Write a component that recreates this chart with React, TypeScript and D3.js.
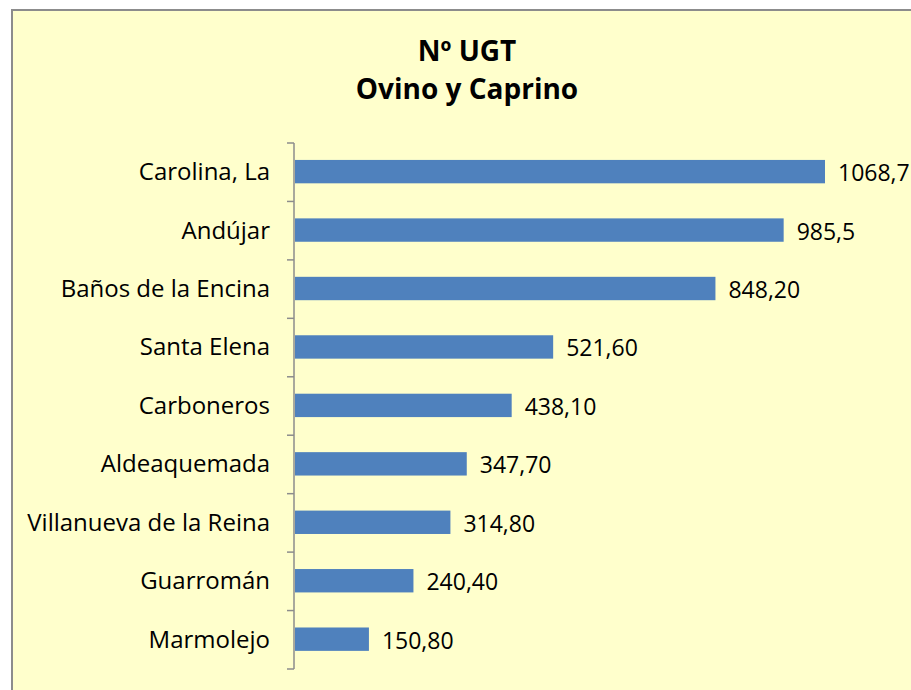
import React from "react";
import * as d3 from "d3";

const categories = [
  "Carolina, La",
  "Andújar",
  "Baños de la Encina",
  "Santa Elena",
  "Carboneros",
  "Aldeaquemada",
  "Villanueva de la Reina",
  "Guarromán",
  "Marmolejo",
];
const values = [1068.7, 985.5, 848.2, 521.6, 438.1, 347.7, 314.8, 240.4, 150.8];
const valueLabels = ["1068,7", "985,5", "848,20", "521,60", "438,10", "347,70", "314,80", "240,40", "150,80"];
const titleLines = ["Nº UGT", "Ovino y Caprino"];

export default function App() {
  const W = 911;
  const H = 690;
  const x0 = 294;
  const x = d3.scaleLinear().domain([0, 1068.7]).range([x0, 825]);
  const y = d3.scaleBand<string>().domain(categories).range([143, 669]).padding(0);
  const bw = y.bandwidth();
  const barH = bw * 0.4;
  const font = "'Open Sans', Lato, sans-serif";
  const boundaries = categories.map((c) => y(c)!).concat([669]);
  return (
    <svg width={W} height={H} style={{ position: "absolute", left: 0, top: 0 }}>
      <rect x={0} y={0} width={W} height={H} fill="#ffffff" />
      <rect x={12} y={10} width={W + 20} height={H + 20} fill="#FFFFCC" stroke="#8c8c8c" strokeWidth={2} />
      {titleLines.map((t, i) => (
        <text key={i} x={467} y={61 + i * 38} textAnchor="middle" fontFamily={font} fontWeight="bold" fontSize={28} fill="#000">
          {t}
        </text>
      ))}
      {categories.map((c, i) => {
        const cy = y(c)! + bw / 2 - 0.6;
        return (
          <g key={c}>
            <rect x={x0 + 1} y={cy - barH / 2} width={x(values[i]) - x0 - 1} height={barH} fill="#4F81BD" />
            <text x={270} y={cy + 8.5} textAnchor="end" fontFamily={font} fontSize={24} fill="#000">
              {c}
            </text>
            <text x={x(values[i]) + 13} y={cy + 9.5} textAnchor="start" fontFamily={font} fontSize={23} fill="#000">
              {valueLabels[i]}
            </text>
          </g>
        );
      })}
      <line x1={x0} x2={x0} y1={143} y2={669} stroke="#8c8c8c" strokeWidth={1.5} />
      {boundaries.map((b, i) => (
        <line key={i} x1={x0 - 7} x2={x0} y1={b} y2={b} stroke="#8c8c8c" strokeWidth={1.5} />
      ))}
    </svg>
  );
}
